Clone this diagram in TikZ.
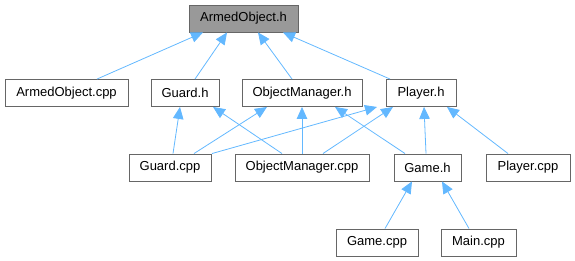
\documentclass[tikz,border=0pt]{standalone}
\usepackage{fontspec}
\setmainfont{Liberation Sans}
\usetikzlibrary{arrows.meta}
\definecolor{edgeblue}{HTML}{63B8FF}
\definecolor{boxline}{HTML}{666666}
\definecolor{rootfill}{HTML}{999999}
\begin{document}
\begin{tikzpicture}[x=1pt,y=-1pt,
  file/.style={draw=boxline, line width=0.9pt, fill=white, inner sep=0pt,
    minimum height=27pt, font=\fontsize{13}{15}\selectfont},
  root/.style={file, fill=rootfill},
  incl/.style={draw=edgeblue, line width=0.8pt,
    {Triangle[length=12pt,width=10.5pt,fill=edgeblue]}-}]
\useasboundingbox (0,0) rectangle (575,261);

% header and source files, one row per include depth
\node[root, minimum width=109pt] (aoh)  at (243.5,18.5) {ArmedObject.h};

\node[file, minimum width=123pt] (aocpp) at (66.5,93) {ArmedObject.cpp};
\node[file, minimum width=68pt]  (gh)    at (185,93)  {Guard.h};
\node[file, minimum width=120pt] (omh)   at (302,93)  {ObjectManager.h};
\node[file, minimum width=70pt]  (ph)    at (421,93)  {Player.h};

\node[file, minimum width=82pt]  (gcpp)  at (170,167.5) {Guard.cpp};
\node[file, minimum width=134pt] (omcpp) at (302,167.5) {ObjectManager.cpp};
\node[file, minimum width=67pt]  (gameh) at (427.5,167.5) {Game.h};
\node[file, minimum width=84pt]  (pcpp)  at (528,167.5) {Player.cpp};

\node[file, minimum width=82pt]  (gamecpp) at (377,242.5) {Game.cpp};
\node[file, minimum width=75pt]  (maincpp) at (478.5,242.5) {Main.cpp};

% include edges: the arrow points at the included header
\draw[incl] ([xshift=-40.5pt]aoh.south) -- ([xshift=30.5pt]aocpp.north);
\draw[incl] ([xshift=-16.5pt]aoh.south) -- ([xshift=10pt]gh.north);
\draw[incl] ([xshift=14.5pt]aoh.south)  -- ([xshift=-10pt]omh.north);
\draw[incl] ([xshift=39.5pt]aoh.south)  -- ([xshift=-31pt]ph.north);

\draw[incl] ([xshift=-5pt]gh.south)  -- ([xshift=3pt]gcpp.north);
\draw[incl] ([xshift=-35pt]omh.south) -- ([xshift=24pt]gcpp.north);
\draw[incl] ([xshift=-44pt]ph.south)  -- ([xshift=42pt]gcpp.north);

\draw[incl] ([xshift=28pt]gh.south)  -- ([xshift=-20pt]omcpp.north);
\draw[incl] (omh.south) -- (omcpp.north);
\draw[incl] ([xshift=-28pt]ph.south) -- ([xshift=21pt]omcpp.north);

\draw[incl] ([xshift=33pt]omh.south) -- ([xshift=-22.5pt]gameh.north);
\draw[incl] ([xshift=3pt]ph.south)   -- ([xshift=-1.5pt]gameh.north);
\draw[incl] ([xshift=26pt]ph.south)  -- ([xshift=-20pt]pcpp.north);

\draw[incl] ([xshift=-15.5pt]gameh.south) -- ([xshift=8pt]gamecpp.north);
\draw[incl] ([xshift=14.5pt]gameh.south)  -- ([xshift=-9.5pt]maincpp.north);
\end{tikzpicture}
\end{document}
